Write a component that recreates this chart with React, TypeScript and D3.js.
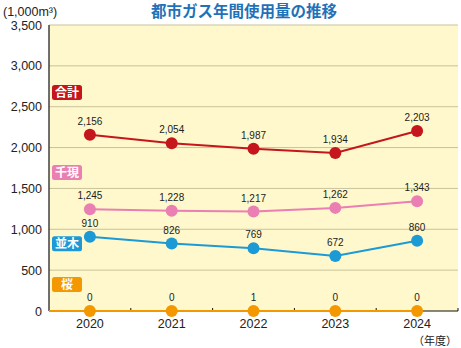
import React from "react";
import * as d3 from "d3";

const years = ["2020", "2021", "2022", "2023", "2024"];
const total = [2156, 2054, 1987, 1934, 2203];
const sengen = [1245, 1228, 1217, 1262, 1343];
const namiki = [910, 826, 769, 672, 860];
const sakura = [0, 0, 1, 0, 0];
const yTicks = [0, 500, 1000, 1500, 2000, 2500, 3000, 3500];

const series = [
  { name: "合計", values: total, color: "#c4161c", tag: 2680 },
  { name: "千現", values: sengen, color: "#e97fb2", tag: 1700 },
  { name: "並木", values: namiki, color: "#1c9ad6", tag: 830 },
  { name: "桜", values: sakura, color: "#f39800", tag: 330 },
];

const W = 461;
const H = 348;
const margin = { top: 25, right: 3, bottom: 37, left: 49 };
const jp = "'Noto Sans CJK JP', 'Noto Sans', sans-serif";
const num = "'Liberation Sans', Arial, sans-serif";

export default function App() {
  const x = d3
    .scaleBand()
    .domain(years)
    .range([margin.left, W - margin.right]);
  const y = d3
    .scaleLinear()
    .domain([0, 3500])
    .range([H - margin.bottom, margin.top]);
  const cx = (d: string) => (x(d) as number) + x.bandwidth() / 2;
  const line = d3
    .line<number>()
    .x((_, i) => cx(years[i]))
    .y((v) => y(v));
  const fmt = d3.format(",");
  const [x0, x1] = x.range();

  return (
    <svg
      width={W}
      height={H}
      style={{ position: "absolute", left: 0, top: 0, background: "#fff" }}
    >
      <text x={244} y={17} textAnchor="middle" fontFamily={jp} fontWeight="bold" fontSize={15.5} fill="#1f72b8">
        都市ガス年間使用量の推移
      </text>
      <text x={3} y={16} fontFamily={num} fontSize={12.5} fill="#222">
        (1,000m³)
      </text>
      <rect x={x0} y={y(3500)} width={x1 - x0} height={y(0) - y(3500)} fill="#fff8cc" />
      {yTicks.map((t) => (
        <g key={t}>
          {t > 0 && (
            <line x1={x0} x2={x1} y1={y(t)} y2={y(t)} stroke="#c9c39a" strokeWidth={1} />
          )}
          <text x={42} y={y(t) + 4.5} textAnchor="end" fontFamily={num} fontSize={12.5} fill="#222">
            {fmt(t)}
          </text>
        </g>
      ))}
      <line x1={x0} x2={x0} y1={y(3500)} y2={y(0)} stroke="#111" strokeWidth={1.2} />
      <line x1={x0} x2={x1} y1={y(0)} y2={y(0)} stroke="#111" strokeWidth={1.2} />
      {years.slice(1).map((yr) => (
        <line key={yr} x1={x(yr)} x2={x(yr)} y1={y(0)} y2={y(0) - 3} stroke="#111" />
      ))}
      <line x1={x1} x2={x1} y1={y(0)} y2={y(0) - 3} stroke="#111" />
      {years.map((yr) => (
        <text key={yr} x={cx(yr)} y={y(0) + 17} textAnchor="middle" fontFamily={num} fontSize={12.5} fill="#222">
          {yr}
        </text>
      ))}
      <text x={457} y={345} textAnchor="end" fontFamily={jp} fontSize={11} fill="#222">
        （年度）
      </text>
      {series.map((s) => (
        <g key={s.name}>
          {s.name === "桜" && (
            <line x1={x0} x2={cx(years[0])} y1={y(s.values[0])} y2={y(s.values[0])} stroke={s.color} strokeWidth={2} />
          )}
          <path d={line(s.values) || ""} fill="none" stroke={s.color} strokeWidth={2} />
          {s.values.map((v, i) => (
            <g key={i}>
              <circle cx={cx(years[i])} cy={y(v)} r={6} fill={s.color} />
              <text x={cx(years[i])} y={y(v) - 10} textAnchor="middle" fontFamily={num} fontSize={10} fill="#222">
                {fmt(v)}
              </text>
            </g>
          ))}
          <rect x={52} y={y(s.tag) - 7} width={30} height={15} rx={2.5} fill={s.color} />
          <text x={67} y={y(s.tag) + 4.5} textAnchor="middle" fontFamily={jp} fontWeight="bold" fontSize={12} fill="#fff">
            {s.name}
          </text>
        </g>
      ))}
    </svg>
  );
}
